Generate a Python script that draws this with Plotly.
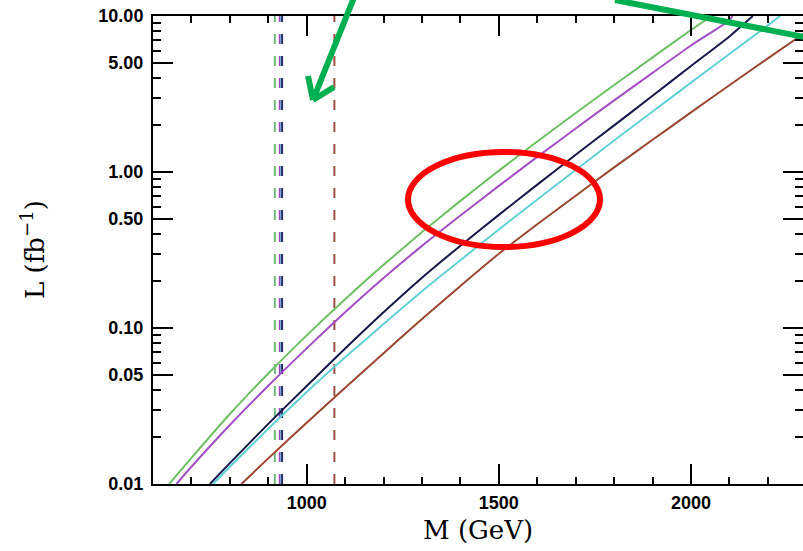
import plotly.graph_objects as go

# Required integrated luminosity L (fb^-1) versus mass M (GeV) for five scenarios
m_green = [642, 700, 800, 900, 1000, 1100, 1200, 1300, 1400, 1500, 1600, 1700, 1800, 1900, 2000, 2054]
l_green = [0.0100, 0.0147, 0.0281, 0.0511, 0.0897, 0.153, 0.254, 0.412, 0.653, 1.02, 1.57, 2.39, 3.61, 5.43, 8.13, 10.0]

m_purple = [661, 700, 800, 900, 1000, 1100, 1200, 1300, 1400, 1500, 1600, 1700, 1800, 1900, 2000, 2100, 2108]
l_purple = [0.0100, 0.0129, 0.0239, 0.0426, 0.0740, 0.126, 0.209, 0.336, 0.526, 0.815, 1.25, 1.90, 2.88, 4.32, 6.47, 9.40, 10.0]

m_navy = [748, 800, 900, 1000, 1100, 1200, 1300, 1400, 1500, 1600, 1700, 1800, 1900, 2000, 2100, 2161]
l_navy = [0.0100, 0.0136, 0.0243, 0.0425, 0.0738, 0.126, 0.210, 0.337, 0.531, 0.830, 1.29, 1.99, 3.08, 4.78, 7.40, 10.0]

m_cyan = [756, 800, 900, 1000, 1100, 1200, 1300, 1400, 1500, 1600, 1700, 1800, 1900, 2000, 2100, 2200, 2232]
l_cyan = [0.0100, 0.0129, 0.0226, 0.0389, 0.0649, 0.106, 0.172, 0.272, 0.428, 0.667, 1.03, 1.59, 2.44, 3.74, 5.71, 8.71, 10.0]

m_brown = [830, 900, 1000, 1100, 1200, 1300, 1400, 1500, 1600, 1700, 1800, 1900, 2000, 2100, 2200, 2300]
l_brown = [0.0100, 0.0146, 0.0247, 0.0414, 0.0690, 0.114, 0.186, 0.299, 0.462, 0.705, 1.07, 1.61, 2.41, 3.60, 5.35, 7.91]

# Existing lower mass limits (vertical dashed lines)
limit_green = 917
limit_purple = 930
limit_cyan = 934
limit_navy = 936
limit_brown = 1072

y_tickvals = [0.01, 0.05, 0.1, 0.5, 1, 5, 10]
y_ticktext = ["0.01", "0.05", "0.10", "0.50", "1.00", "5.00", "10.00"]
x_tickvals = [1000, 1500, 2000]
x_ticktext = ["1000", "1500", "2000"]

x_minor = [m for m in range(700, 2300, 100) if m not in x_tickvals]
y_minor = [d * k for d in (0.01, 0.1, 1) for k in (2, 3, 4, 6, 7, 8, 9)]

Y_LO, Y_HI = 0.01, 10.0

curves = [
    (m_green, l_green, "#6cc062"),
    (m_purple, l_purple, "#a24fc4"),
    (m_navy, l_navy, "#16184a"),
    (m_cyan, l_cyan, "#62d0d6"),
    (m_brown, l_brown, "#9a4630"),
]
limits = [
    (limit_green, "#72b878"),
    (limit_purple, "#9a46c0"),
    (limit_cyan, "#62c8d0"),
    (limit_navy, "#2c2a6a"),
    (limit_brown, "#9a5040"),
]

fig = go.Figure()

for xv, col in limits:
    fig.add_trace(go.Scatter(
        x=[xv, xv], y=[Y_LO, Y_HI], mode="lines",
        line=dict(color=col, width=2, dash="10px,12px"),
        showlegend=False, hoverinfo="skip"))

for mx, ly, col in curves:
    fig.add_trace(go.Scatter(
        x=mx, y=ly, mode="lines",
        line=dict(color=col, width=2, shape="spline", smoothing=0.6),
        showlegend=False))

# plot-area geometry in pixels, used for the overlay shapes
L_PX, R_PX, T_PX, B_PX = 153, 803, 16, 484


def px(xp, yp):
    return (xp - L_PX) / (R_PX - L_PX), (B_PX - yp) / (B_PX - T_PX)


shapes = []
# red ellipse
ex0, ey0 = px(408, 247)
ex1, ey1 = px(600, 152)
shapes.append(dict(type="circle", xref="paper", yref="paper",
                   x0=ex0, y0=ey0, x1=ex1, y1=ey1,
                   line=dict(color="#ff0000", width=6)))

# green arrows
arrow_col = "#00b050"
segments = [
    ((357, -10), (313, 100)),
    ((313, 100), (308, 76)),
    ((313, 100), (334, 87)),
    ((615, 0), (820, 40)),
]
for (xa, ya), (xb, yb) in segments:
    a0, b0 = px(xa, ya)
    a1, b1 = px(xb, yb)
    shapes.append(dict(type="line", xref="paper", yref="paper",
                       x0=a0, y0=b0, x1=a1, y1=b1,
                       line=dict(color=arrow_col, width=6)))

tick_font = dict(family="Liberation Sans", size=18, color="black", weight="bold")
title_font = dict(family="DejaVu Serif", size=26, color="black")

xt_x, xt_y = px(478, 530)
yt_x, yt_y = px(33, 250)

fig.update_layout(
    width=803, height=551,
    margin=dict(l=L_PX, r=803 - R_PX, t=T_PX, b=551 - B_PX, autoexpand=False),
    paper_bgcolor="white", plot_bgcolor="white",
    shapes=shapes,
    annotations=[
        dict(text="M (GeV)", xref="paper", yref="paper", x=xt_x, y=xt_y,
             showarrow=False, font=title_font, xanchor="center", yanchor="middle"),
        dict(text="L (fb<sup>−1</sup>)", xref="paper", yref="paper", x=yt_x, y=yt_y,
             showarrow=False, font=title_font, textangle=-90,
             xanchor="center", yanchor="middle"),
    ],
    xaxis=dict(
        range=[600, 2291.5], showgrid=False, zeroline=False,
        showline=True, linecolor="black", linewidth=2, mirror="ticks",
        ticks="inside", ticklen=20, tickwidth=2, tickcolor="black",
        tickmode="array", tickvals=x_tickvals, ticktext=x_ticktext,
        tickfont=tick_font, ticklabelstandoff=1,
        minor=dict(ticks="inside", ticklen=7, tickwidth=2, tickcolor="black",
                   tickmode="array", tickvals=x_minor, showgrid=False),
    ),
    yaxis=dict(
        type="log", range=[-2, 1], showgrid=False, zeroline=False,
        showline=True, linecolor="black", linewidth=2, mirror="ticks",
        ticks="inside", ticklen=20, tickwidth=2, tickcolor="black",
        tickmode="array", tickvals=y_tickvals, ticktext=y_ticktext,
        tickfont=tick_font, ticklabelstandoff=4,
        minor=dict(ticks="inside", ticklen=8, tickwidth=2, tickcolor="black",
                   tickmode="array", tickvals=y_minor, showgrid=False),
    ),
)

fig.write_html("out.html")
